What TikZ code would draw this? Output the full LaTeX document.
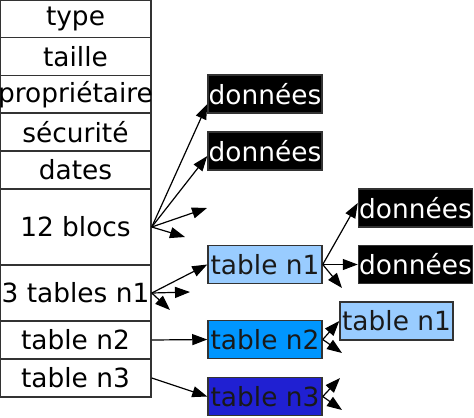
\documentclass[tikz,border=0pt]{standalone}
\usepackage{fontspec}
\setmainfont{DejaVu Sans}
\usetikzlibrary{arrows.meta}
\definecolor{tableun}{RGB}{153,204,255}
\definecolor{tabledeux}{RGB}{0,150,255}
\definecolor{tabletrois}{RGB}{32,32,210}
\tikzset{
  champ/.style={draw=black!80,line width=0.75pt,minimum width=75.5pt,inner sep=0pt,font=\fontsize{13.2}{15}\selectfont},
  donnee/.style={draw=black!80,fill=black,text=white,line width=0.75pt,minimum width=57pt,minimum height=19pt,inner sep=0pt,font=\fontsize{13.2}{15}\selectfont},
  table/.style={draw=black!80,line width=0.75pt,minimum width=57pt,minimum height=19pt,inner sep=0pt,text=black!90,font=\fontsize{13.2}{15}\selectfont},
  fleche/.style={-{Triangle[length=7.5pt,width=5.5pt]},line width=0.6pt}
}
\begin{document}
\begin{tikzpicture}[x=0.5pt,y=-0.5pt]
\useasboundingbox (0,0) rectangle (474,417);
\node[champ,minimum height=18.75pt] (type) at (75.5,18.75) {type};
\node[champ,minimum height=19pt] (taille) at (75.5,56.5) {taille};
\node[champ,minimum height=18.75pt] (proprio) at (75.5,94.25) {\makebox[0pt]{propriétaire}};
\node[champ,minimum height=19pt] (securite) at (75.5,132) {sécurité};
\node[champ,minimum height=19pt] (dates) at (75.5,170) {dates};
\node[champ,minimum height=38pt] (blocs) at (75.5,227) {12 blocs};
\node[champ,minimum height=28pt] (tables) at (75.5,293) {\makebox[0pt]{3 tables n1}};
\node[champ,minimum height=19pt] (ligneB) at (75.5,340) {table n2};
\node[champ,minimum height=19pt] (ligneC) at (75.5,378) {table n3};

\node[donnee] (don1) at (265,94) {\makebox[0pt]{données}};
\node[donnee] (don2) at (265,151) {\makebox[0pt]{données}};
\node[table,fill=tableun] (tabA) at (265,264.5) {\makebox[0pt]{table n1}};
\node[table,fill=tabledeux] (tabB) at (265,339.5) {\makebox[0pt]{table n2}};
\node[table,fill=tabletrois] (tabC) at (265,396.5) {\makebox[0pt]{table n3}};
\node[donnee] (don3) at (415.5,208) {\makebox[0pt]{données}};
\node[donnee] (don4) at (415.5,264.5) {\makebox[0pt]{données}};
\node[table,fill=tableun,minimum width=56.5pt] (tabD) at (396.5,321) {\makebox[0pt]{table n1}};

\coordinate (libre1) at (207,208);
\coordinate (libre2) at (185,237);
\coordinate (libre3) at (190,292);
\coordinate (libre4) at (170,310);
\coordinate (libre5) at (342,288);
\coordinate (libre6) at (342,353);
\coordinate (libre7) at (340,378);
\coordinate (libre8) at (342,410);

\draw[fleche] (blocs.east) -- (don1.190);
\draw[fleche] (blocs.east) -- (don2.185);
\draw[fleche] (blocs.east) -- (libre1);
\draw[fleche] (blocs.east) -- (libre2);
\draw[fleche] (tables.east) -- (tabA.west);
\draw[fleche] (tables.east) -- (libre3);
\draw[fleche] (tables.east) -- (libre4);
\draw[fleche] (ligneB.east) -- (tabB.west);
\draw[fleche] (ligneC.east) -- (tabC.west);
\draw[fleche] (tabA.east) -- (don3.175);
\draw[fleche] (tabA.east) -- (don4.west);
\draw[fleche] (tabA.east) -- (libre5);
\draw[fleche] (tabB.east) -- (tabD.west);
\draw[fleche] (tabB.east) -- (libre6);
\draw[fleche] (tabC.east) -- (libre7);
\draw[fleche] (tabC.east) -- (libre8);
\end{tikzpicture}
\end{document}
